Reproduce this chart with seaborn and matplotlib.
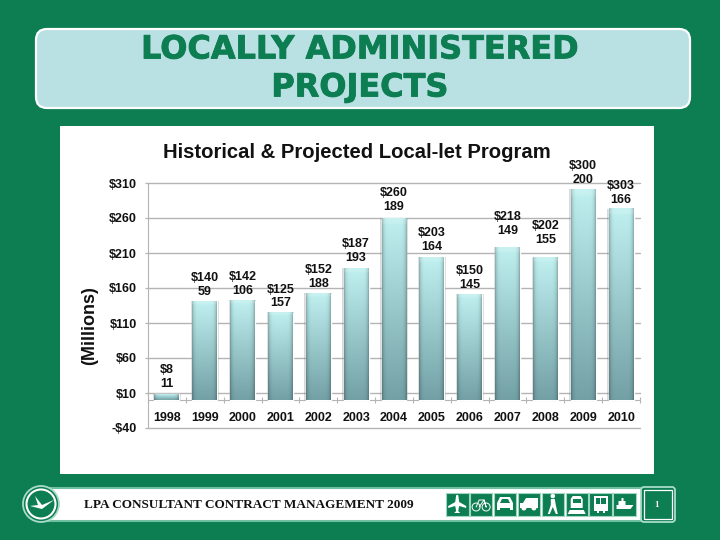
import numpy as np
import matplotlib
matplotlib.use('Agg')
import matplotlib.pyplot as plt
import matplotlib.patheffects as pe
from matplotlib.patches import Rectangle, FancyBboxPatch, Circle, Polygon
import seaborn as sns

years = ['1998', '1999', '2000', '2001', '2002', '2003', '2004',
         '2005', '2006', '2007', '2008', '2009', '2010']
# bar heights (2010 bar is drawn lower than its label says)
bar_millions = [8, 141, 142, 125, 152, 188, 260, 204, 151, 218, 203, 301, 273]
dollar_labels = ['$8', '$140', '$142', '$125', '$152', '$187', '$260',
                 '$203', '$150', '$218', '$202', '$300', '$303']
project_counts = [11, 59, 106, 157, 188, 193, 189, 164, 145, 149, 155, 200, 166]
y_ticks = [-40, 10, 60, 110, 160, 210, 260, 310]
y_tick_labels = ['-$40', '$10', '$60', '$110', '$160', '$210', '$260', '$310']

# gap between bar top and label, pixels
label_gaps = [4, 3, 4, 3, 4, 4, 5, 4, 3, 10, 12, 3, 3]

GREEN = '#0d7d52'
FONT = 'Liberation Sans'
GRID = '#b4b4b4'

sns.set_theme(style='white')
plt.rcParams['font.family'] = [FONT, 'DejaVu Sans']
# all the text on this slide is bold
plt.rcParams['font.weight'] = 'bold'
plt.rcParams['xtick.labelsize'] = 9
plt.rcParams['xtick.labelcolor'] = '#111111'

fig = plt.figure(figsize=(7.2, 5.4), dpi=100, facecolor=GREEN)

# overlay in pixel coordinates for the slide furniture
bg = fig.add_axes([0, 0, 1, 1], zorder=0)
bg.set_xlim(0, 720)
bg.set_ylim(540, 0)
bg.axis('off')

bg.add_patch(FancyBboxPatch((36, 29), 654, 79, boxstyle='round,pad=0,rounding_size=11',
                            fc='#b9e0e2', ec='white', lw=1.6))
for txt, yy in [('LOCALLY ADMINISTERED', 50), ('PROJECTS', 88)]:
    bg.text(360, yy, txt, ha='center', va='center', fontsize=23, fontweight='bold',
            family='DejaVu Sans', color=GREEN,
            path_effects=[pe.withStroke(linewidth=0.6, foreground=GREEN)])

bg.add_patch(Rectangle((60, 126), 594, 348, fc='white', ec='none'))

# footer bar
bg.add_patch(Rectangle((45, 488), 597, 33, fc='white', ec='#6fc0a0', lw=1.5))
bg.add_patch(Circle((41, 504), 18, fc=GREEN, ec='#a8dcc8', lw=1.3, zorder=3))
bg.add_patch(Circle((41, 504), 14.5, fc=GREEN, ec='white', lw=1.5, zorder=3))
bg.add_patch(Polygon([(30, 506), (42, 509), (54, 500), (42, 505), (35, 496), (38, 505)],
                     fc='white', ec='none', zorder=4))
bg.text(84, 505, 'LPA CONSULTANT CONTRACT MANAGEMENT 2009', ha='left', va='center',
        fontsize=9.5, fontweight='bold', family='Liberation Serif', color='#111111')
bg.add_patch(FancyBboxPatch((641, 487), 34, 35, boxstyle='round,pad=0,rounding_size=3',
                            fc=GREEN, ec='#a8dcc8', lw=1.3, zorder=3))
bg.add_patch(Rectangle((644, 490), 28, 29, fc=GREEN, ec='white', lw=0.9, zorder=3))
bg.text(657, 505, '1', ha='center', va='center', fontsize=6.5, fontweight='bold',
        family='Liberation Serif', color='white', zorder=4)


def poly(pts, cx):
    bg.add_patch(Polygon([(cx + a, 504 + b) for a, b in pts], fc='white', ec='none', zorder=5))


def wheel(cx, dx, dy, r, filled=False):
    bg.add_patch(Circle((cx + dx, 504 + dy), r, fc='white' if filled else 'none',
                        ec='white', lw=0.7, zorder=5))


def plane(c):
    poly([(-1, -9), (1, -9), (2, -2), (9, 2), (9, 4), (2, 2), (1, 7), (3, 9), (-3, 9),
          (-1, 7), (-2, 2), (-9, 4), (-9, 2), (-2, -2)], c)


def bike(c):
    wheel(c, -5, 3, 4)
    wheel(c, 5, 3, 4)
    bg.plot([c - 5, c - 2, c + 3, c + 5, c + 3, c - 2], [507, 500, 500, 507, 500, 507],
            color='white', lw=0.7, zorder=5)


def car(c):
    poly([(-5, -7), (5, -7), (8, -1), (8, 6), (5, 6), (5, 4), (-5, 4), (-5, 6), (-8, 6),
          (-8, -1)], c)
    bg.add_patch(Polygon([(c - 3, 499), (c + 3, 499), (c + 5, 503), (c - 5, 503)],
                         fc=GREEN, ec='none', zorder=6))


def truck(c):
    poly([(-3, -6), (9, -6), (9, 4), (-9, 4), (-9, -1), (-6, -1)], c)
    wheel(c, -5, 4, 2, True)
    wheel(c, 5, 4, 2, True)


def walker(c):
    wheel(c, 0, -8, 1.8, True)
    poly([(-2, -5), (2, -5), (3, 1), (5, 10), (3, 10), (0, 3), (-3, 10), (-5, 10), (-2, 1)], c)


def train(c):
    poly([(-4, -8), (4, -8), (6, -5), (6, 4), (-6, 4), (-6, -5)], c)
    bg.add_patch(Rectangle((c - 4, 499), 8, 4, fc=GREEN, ec='none', zorder=6))
    poly([(-7, 6), (7, 6), (9, 10), (-9, 10)], c)


def bus(c):
    poly([(-7, -8), (7, -8), (7, 7), (4, 7), (4, 9), (2, 9), (2, 7), (-2, 7), (-2, 9), (-4, 9),
          (-4, 7), (-7, 7)], c)
    bg.add_patch(Rectangle((c - 5, 498), 4.4, 6, fc=GREEN, ec='none', zorder=6))
    bg.add_patch(Rectangle((c + 0.6, 498), 4.4, 6, fc=GREEN, ec='none', zorder=6))


def boat(c):
    poly([(-8, 1), (-6, 1), (-6, -3), (-3, -3), (-3, -6), (-1, -6), (-1, -3), (1, -3), (1, 1),
          (9, 1), (6, 5), (-8, 5)], c)


for i, draw_icon in enumerate([plane, bike, car, truck, walker, train, bus, boat]):
    x0 = 445.5 + i * 23.9
    bg.add_patch(Rectangle((x0 + 0.5, 492.5), 22.5, 23, fc=GREEN, ec='#9fd6c0', lw=0.8, zorder=4))
    draw_icon(x0 + 11.7)

# chart
ax = fig.add_axes([148 / 720, 1 - 428 / 540, 492 / 720, 245 / 540], zorder=2)
ax.patch.set_alpha(0)
sns.barplot(x=years, y=bar_millions, color='#a8d8da', width=0.66, ax=ax, zorder=3)

# each bar: light at the top, darker towards the base, shaded along the sides
grad_v = np.linspace(0, 1, 64)[:, None]
grad_h = np.linspace(-1, 1, 32)[None, :]
top_col = np.array([0.75, 0.94, 0.94])
low_col = np.array([0.45, 0.63, 0.65])
shade = 1 - 0.25 * np.abs(grad_h) ** 7
img = (top_col[None, None, :] * (1 - grad_v[..., None]) + low_col[None, None, :] * grad_v[..., None])
img = img * shade[..., None]
img[:2, :, :] = img[:2, :, :] * 0.86 + 0.14
for bar in list(ax.patches):
    x, w, h = bar.get_x(), bar.get_width(), bar.get_height()
    ax.add_patch(Rectangle((x - 0.035, -1.5), w + 0.07, h + 2, fc='#555555', alpha=0.22, ec='none', zorder=2.5))
    ax.imshow(img, extent=(x, x + w, 0, h), aspect='auto', origin='upper', zorder=3.2,
              interpolation='bilinear')

for i, (d, n, gap) in enumerate(zip(dollar_labels, project_counts, label_gaps)):
    ax.annotate(f'{d}\n{n}', (i, bar_millions[i]), xytext=(0, gap * 0.72), textcoords='offset points',
                ha='center', va='bottom', fontsize=9, fontweight='bold', color='#111111',
                linespacing=1.22, zorder=6, annotation_clip=False)

ax.set_xlim(-0.5, 12.5)
ax.set_ylim(-40, 310)
ax.set_yticks(y_ticks)
ax.set_yticklabels(y_tick_labels, fontsize=9, fontweight='bold', color='#111111')
ax.grid(axis='y', color=GRID, lw=1.0, zorder=1)
ax.set_axisbelow(True)
for gl in ax.get_ygridlines():
    gl.set_clip_on(False)
ax.tick_params(axis='y', length=2.5, width=0.9, color=GRID, pad=5.5, left=True)
ax.set_xticks(range(len(years)), years)
ax.set_xticks(np.arange(-0.5, 13), minor=True)
ax.tick_params(axis='x', which='minor', length=5, width=0.8, color=GRID, direction='inout', bottom=True)
ax.tick_params(axis='x', which='major', length=0, pad=8.5, labelsize=9)

for side in ['top', 'right']:
    ax.spines[side].set_visible(False)
ax.spines['left'].set_color(GRID)
ax.spines['left'].set_linewidth(0.8)
ax.spines['bottom'].set_color(GRID)
ax.spines['bottom'].set_linewidth(0.8)
ax.spines['bottom'].set_position(('data', 0))

bg.text(357, 152, 'Historical & Projected Local-let Program', ha='center', va='center',
        fontsize=14.6, fontweight='bold', color='#111111')
bg.text(90, 326, '(Millions)', ha='center', va='center', rotation=90,
        fontsize=13, fontweight='bold', color='#111111')

fig.savefig('out.png', dpi=100, facecolor=GREEN)
